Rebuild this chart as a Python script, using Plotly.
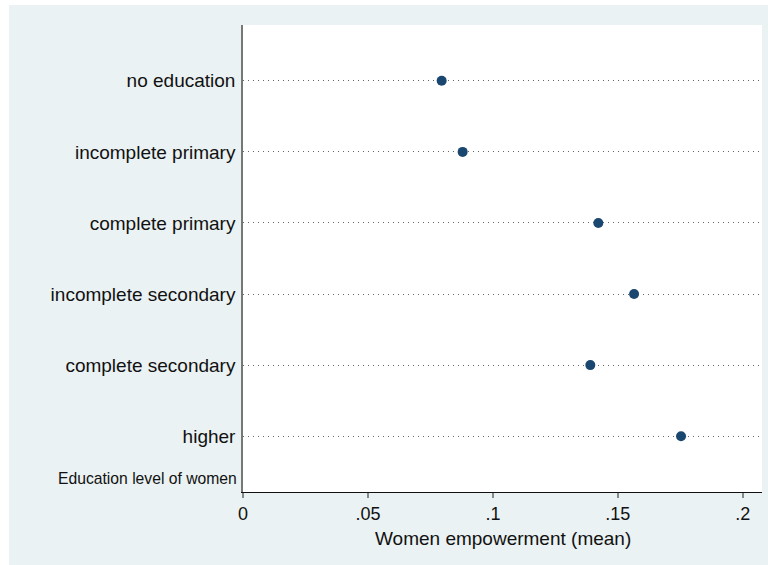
import plotly.graph_objects as go

categories = ["no education", "incomplete primary", "complete primary",
              "incomplete secondary", "complete secondary", "higher"]
values = [0.0795, 0.0879, 0.1422, 0.1565, 0.1390, 0.1753]
xtick_vals = [0, 0.05, 0.1, 0.15, 0.2]
xtick_text = ["0", ".05", ".1", ".15", ".2"]

FONT = "Liberation Sans, Arial, sans-serif"
BG = "#EAF2F3"

fig = go.Figure()
fig.add_trace(go.Scatter(
    x=values, y=categories, mode="markers",
    marker=dict(color="#1a476f", size=10, line=dict(width=0)),
    showlegend=False, cliponaxis=False,
))

fig.update_layout(
    width=768, height=565,
    margin=dict(l=243, r=6, t=25, b=73),
    paper_bgcolor=BG, plot_bgcolor="white",
    font=dict(family=FONT, size=19, color="#111"),
    xaxis=dict(
        range=[0, 0.2077], tickvals=xtick_vals, ticktext=xtick_text,
        showgrid=False, zeroline=False, showline=True, linecolor="#111", linewidth=1,
        ticks="outside", ticklen=5, tickcolor="#888", tickwidth=1.5,
        tickfont=dict(size=18),
    ),
    yaxis=dict(
        type="category", categoryorder="array", categoryarray=categories,
        range=[5.785, -0.785],
        showgrid=True, gridcolor="#666", gridwidth=1, griddash="1px,4px",
        zeroline=False, showline=True, linecolor="#777", linewidth=1.5,
        ticks="", ticklabelstandoff=2,
        tickfont=dict(size=19),
    ),
    shapes=[
        dict(type="rect", xref="paper", yref="paper", x0=-243/519, x1=-234/519,
             y0=-1, y1=2, fillcolor="white", line=dict(width=0), layer="above"),
        dict(type="rect", xref="paper", yref="paper", x0=-1, x1=2,
             y0=1 + 20/467, y1=1 + 30/467, fillcolor="white", line=dict(width=0), layer="above"),
    ],
    annotations=[
        dict(text="Education level of women", xref="paper", yref="y",
             x=-4/519, y=5.6, xanchor="right", yanchor="middle", showarrow=False,
             font=dict(size=15.7, family=FONT, color="#111")),
        dict(text="Women empowerment (mean)", xref="paper", yref="paper",
             x=0.5, y=-46/467, xanchor="center", yanchor="middle", showarrow=False,
             font=dict(size=19, family=FONT, color="#111")),
    ],
)

fig.write_html("out.html", config={"displayModeBar": False},
               post_script="document.body.style.margin='0';document.body.style.overflow='hidden';")
